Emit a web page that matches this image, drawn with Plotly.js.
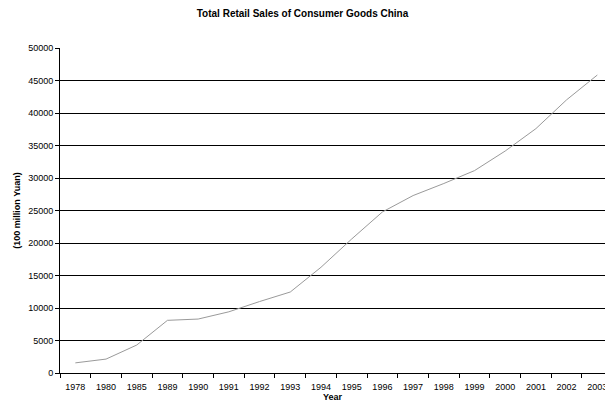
<!DOCTYPE html>
<html>
<head>
<meta charset="utf-8">
<script src="https://cdn.plot.ly/plotly-3.0.1.min.js"></script>
<style>html,body{margin:0;padding:0;background:#fff;}#chart{width:605px;height:402px;}</style>
</head>
<body>
<div id="chart"></div>
<script>
const years = ["1978","1980","1985","1989","1990","1991","1992","1993","1994","1995","1996","1997","1998","1999","2000","2001","2002","2003"];
const sales = [1558.6,2140.0,4305.0,8101.4,8300.1,9415.6,10993.7,12462.1,16264.7,20620.0,24774.1,27298.9,29152.5,31134.7,34152.6,37595.2,42027.1,45842.0];
const yTicks = [0,5000,10000,15000,20000,25000,30000,35000,40000,45000,50000];

const trace = {
  x: years, y: sales, type: "scatter", mode: "lines",
  line: {color: "#9a9a9a", width: 1}, hoverinfo: "x+y"
};
const layout = {
  width: 605, height: 402,
  margin: {l: 60, r: 0, t: 48, b: 29},
  paper_bgcolor: "#fff", plot_bgcolor: "#fff",
  font: {family: "Liberation Sans, Arial, sans-serif", color: "#000", size: 9},
  showlegend: false,
  title: {text: "<b>Total Retail Sales of Consumer Goods China</b>", font: {size: 10, color: "#000"},
          x: 0.5, xref: "container", y: 1 - 13/402, yref: "container", yanchor: "middle"},
  xaxis: {
    type: "category", range: [-0.5, 17.25], tickson: "boundaries",
    ticks: "outside", ticklen: 4, tickcolor: "#000", showline: true, linecolor: "#000", linewidth: 1,
    showgrid: false, zeroline: false, tickfont: {size: 9}, automargin: false, ticklabelstandoff: 5,
    title: {text: "<b>Year</b>", font: {size: 9}, standoff: 7}
  },
  yaxis: {
    range: [0, 50000], tickvals: yTicks, ticktext: yTicks.map(String),
    ticks: "outside", ticklen: 4, tickcolor: "#000", showline: true, linecolor: "#000", linewidth: 1,
    showgrid: true, gridcolor: "#000", gridwidth: 1, zeroline: false, tickfont: {size: 9}, automargin: false,
    title: {text: "<b>(100 million Yuan)</b>", font: {size: 9}, standoff: 6}
  }
};
Plotly.newPlot("chart", [trace], layout, {displayModeBar: false, staticPlot: true});
</script>
</body>
</html>
